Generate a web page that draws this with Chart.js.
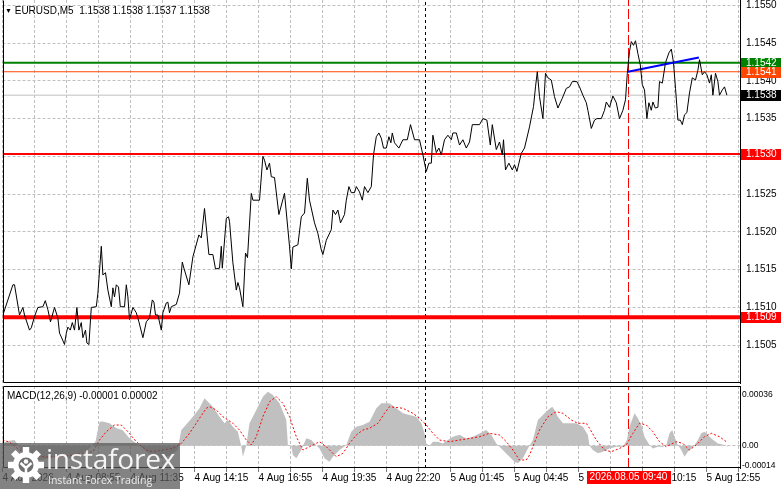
<!DOCTYPE html>
<html>
<head>
<meta charset="utf-8">
<script src="https://cdn.jsdelivr.net/npm/chart.js@4.4.1/dist/chart.umd.min.js"></script>
<style>
  html, body { margin:0; padding:0; background:#fff; }
  body { width:781px; height:489px; position:relative; overflow:hidden; font-family:"Liberation Sans", Arial, sans-serif; }
  canvas { position:absolute; left:0; }
  #mainChart { top:0; }
  #macdChart { top:386px; }
  .lbl { position:absolute; font-size:10px; line-height:12px; color:#000; white-space:pre; }
  #wm { position:absolute; left:0; top:443px; width:180px; height:46px; background:rgba(88,88,88,0.74); }
  #wm svg { position:absolute; left:6px; top:3px; }
  #wm .big { position:absolute; left:46px; top:0px; font-family:"Open Sans", "Liberation Sans", sans-serif; font-size:28px; line-height:30px; color:rgba(255,255,255,0.92); letter-spacing:-0.2px; }
  #wm .small { position:absolute; left:48px; top:31px; font-family:"Open Sans", "Liberation Sans", sans-serif; font-size:10.5px; line-height:12px; color:rgba(255,255,255,0.85); }
</style>
</head>
<body>
<canvas id="mainChart" width="781" height="386"></canvas>
<canvas id="macdChart" width="781" height="103"></canvas>
<div class="lbl" style="left:5px;top:5px"><span style="font-size:7px;vertical-align:1px">▼</span> EURUSD,M5  1.1538 1.1538 1.1537 1.1538</div>
<div class="lbl" style="left:7px;top:390px">MACD(12,26,9) -0.00001 0.00002</div>
<div id="wm">
  <svg width="40" height="38" viewBox="-20 -19 40 38">
    <g fill="#fff">
      <circle r="13"/>
      <rect x="-3.2" y="-18" width="6.4" height="8"/>
      <rect x="-3.2" y="-18" width="6.4" height="8" transform="rotate(45)"/>
      <rect x="-3.2" y="-18" width="6.4" height="8" transform="rotate(90)"/>
      <rect x="-3.2" y="-18" width="6.4" height="8" transform="rotate(135)"/>
      <rect x="-3.2" y="-18" width="6.4" height="8" transform="rotate(180)"/>
      <rect x="-3.2" y="-18" width="6.4" height="8" transform="rotate(225)"/>
      <rect x="-3.2" y="-18" width="6.4" height="8" transform="rotate(270)"/>
      <rect x="-3.2" y="-18" width="6.4" height="8" transform="rotate(315)"/>
    </g>
    <circle r="7.5" fill="#707070"/>
    <circle cx="0" cy="-3.5" r="2.3" fill="#fff"/>
    <path d="M-5.5 -2 L0 3 L5.5 -2 M0 3 L0 12" stroke="#fff" stroke-width="2.5" fill="none"/>
  </svg>
  <div class="big">instaforex</div>
  <div class="small">Instant Forex Trading</div>
</div>
<script>
// ---------- DATA ----------
// x positions are M5 bar indices counted from the first visible bar
const xTickLabels = ["4 Aug 2026","4 Aug 08:55","4 Aug 11:35","4 Aug 14:15","4 Aug 16:55","4 Aug 19:35",
                     "4 Aug 22:20","5 Aug 01:45","5 Aug 04:45","5 Aug 07:25","5 Aug 10:15","5 Aug 12:55"];
const xLabelStep = 32;
const xGridStep = 16;
const xMax = 368.75;

const priceTicks = [1.1505,1.1510,1.1515,1.1520,1.1525,1.1530,1.1535,1.1540,1.1545,1.1550];
const priceMin = 1.15000, priceMax = 1.15507;

const priceBar = [
  0.2,5.2,6.0,8.5,10.2,11.0,13.5,14.4,16.0,17.7,
  20.2,21.4,22.7,24.0,26.0,27.7,28.5,29.4,31.0,31.9,
  32.7,33.9,34.9,36.0,37.2,38.2,39.4,40.2,41.5,42.2,
  43.2,44.4,46.9,47.7,49.4,50.2,51.5,52.7,54.4,55.2,
  56.0,56.9,58.0,58.9,61.0,61.9,62.7,63.5,65.2,66.9,
  68.2,70.2,71.9,73.5,74.9,75.7,76.5,77.7,79.4,80.2,
  81.9,82.7,83.5,84.4,86.9,88.5,89.9,90.7,93.2,95.2,
  98.2,99.4,101.0,103.2,105.2,106.5,108.5,109.4,109.9,111.9,
  113.0,113.5,115.2,116.9,117.7,118.5,120.2,121.5,122.5,124.4,
  125.2,128.5,130.2,131.0,132.2,133.5,134.4,136.0,138.2,141.0,
  143.5,144.4,145.2,147.7,149.4,151.0,152.4,153.5,156.0,157.7,
  159.4,160.2,161.9,164.4,165.2,166.5,167.7,169.0,171.0,171.9,
  173.2,174.4,176.0,176.9,178.5,179.9,181.0,182.7,184.4,185.5,
  186.9,188.2,189.4,190.5,191.9,193.2,194.2,194.9,196.0,198.2,
  200.2,202.4,204.0,206.0,208.5,210.2,211.9,213.2,214.4,215.2,
  216.9,218.2,219.4,221.0,222.7,224.4,225.2,226.9,228.5,230.2,
  231.9,233.5,234.9,238.5,240.2,242.2,243.9,244.9,246.9,248.5,
  249.9,250.5,251.5,253.2,254.9,256.0,257.2,259.4,261.0,263.5,
  265.5,266.5,267.4,268.5,270.2,271.5,272.7,274.4,276.0,277.7,
  279.9,281.9,283.5,284.9,287.2,288.5,290.2,291.9,292.7,294.4,
  296.0,297.2,299.4,301.0,301.9,303.5,305.2,306.9,308.5,310.2,
  311.5,312.4,313.5,314.4,315.5,316.5,317.7,318.9,319.9,321.0,
  322.2,323.2,324.4,325.2,326.4,327.7,328.5,329.9,331.5,333.2,
  334.4,335.5,336.5,337.7,338.9,339.9,341.0,342.2,343.5,344.9,
  346.5,347.7,348.5,349.9,351.0,352.2,353.5,354.4,355.2,356.5,
  357.7,358.5,359.9,361.0,362.2
];
const priceClose = [
  1.15090,1.15130,1.15130,1.15090,1.15100,1.15090,1.15070,1.15073,1.15088,1.15100,
  1.15101,1.15109,1.15097,1.15081,1.15100,1.15086,1.15066,1.15061,1.15051,1.15066,
  1.15074,1.15070,1.15080,1.15070,1.15100,1.15070,1.15080,1.15060,1.15070,1.15053,
  1.15051,1.15100,1.15101,1.15119,1.15181,1.15143,1.15146,1.15123,1.15101,1.15126,
  1.15114,1.15130,1.15127,1.15101,1.15101,1.15130,1.15114,1.15084,1.15100,1.15093,
  1.15081,1.15060,1.15081,1.15086,1.15110,1.15107,1.15090,1.15090,1.15070,1.15093,
  1.15106,1.15107,1.15093,1.15101,1.15104,1.15119,1.15160,1.15152,1.15130,1.15167,
  1.15196,1.15192,1.15231,1.15170,1.15170,1.15151,1.15152,1.15181,1.15152,1.15218,
  1.15220,1.15214,1.15159,1.15123,1.15133,1.15126,1.15101,1.15172,1.15166,1.15251,
  1.15242,1.15242,1.15300,1.15295,1.15282,1.15291,1.15273,1.15272,1.15223,1.15251,
  1.15181,1.15151,1.15180,1.15183,1.15220,1.15225,1.15271,1.15242,1.15212,1.15198,
  1.15176,1.15170,1.15189,1.15203,1.15229,1.15223,1.15229,1.15212,1.15223,1.15242,
  1.15260,1.15252,1.15252,1.15260,1.15253,1.15242,1.15260,1.15252,1.15260,1.15302,
  1.15326,1.15331,1.15324,1.15311,1.15311,1.15326,1.15318,1.15331,1.15318,1.15311,
  1.15322,1.15322,1.15342,1.15322,1.15322,1.15302,1.15280,1.15291,1.15291,1.15328,
  1.15305,1.15311,1.15302,1.15322,1.15328,1.15322,1.15331,1.15331,1.15315,1.15322,
  1.15311,1.15319,1.15342,1.15342,1.15350,1.15348,1.15315,1.15342,1.15309,1.15319,
  1.15302,1.15322,1.15282,1.15291,1.15282,1.15289,1.15280,1.15304,1.15311,1.15339,
  1.15366,1.15392,1.15412,1.15379,1.15350,1.15410,1.15404,1.15401,1.15379,1.15364,
  1.15377,1.15390,1.15392,1.15399,1.15399,1.15392,1.15381,1.15371,1.15361,1.15337,
  1.15348,1.15350,1.15350,1.15361,1.15372,1.15365,1.15380,1.15371,1.15350,1.15361,
  1.15375,1.15410,1.15439,1.15452,1.15447,1.15453,1.15436,1.15421,1.15395,1.15388,
  1.15350,1.15371,1.15361,1.15372,1.15364,1.15365,1.15399,1.15397,1.15424,1.15437,
  1.15442,1.15424,1.15390,1.15348,1.15348,1.15342,1.15355,1.15358,1.15384,1.15404,
  1.15401,1.15414,1.15428,1.15408,1.15412,1.15408,1.15397,1.15408,1.15381,1.15410,
  1.15399,1.15381,1.15388,1.15392,1.15381
];

// horizontal levels: green, orange, bid (silver), red support/resistance
const levelValues = [1.15424, 1.15412, 1.15381, 1.15303, 1.15087];
const levelLineColors = ["#008000", "#ff4500", "#c0c0c0", "#ff0000", "#ff0000"];
const levelLineWidths = [2, 1, 1, 2, 4];
const levelTagColors = ["#008000", "#ff4500", "#000000", "#ff0000", "#ff0000"];

// blue trend line
const trendBars = [312.7, 348.2];
const trendPrices = [1.15412, 1.15431];

// vertical separators
const separatorBars = [211.5, 313];
const separatorColors = ["#000000", "#ff0000"];
const cursorLabel = "2026.08.05 09:40";

// MACD
const macdTicks = [-0.00014, 0, 0.00036];
const macdMin = -0.000156, macdMax = 0.000418;
const histBar = [
  0,3.5,6,7.5,9.5,13.5,18.5,23.5,28.5,33.5,
  38.5,43.5,46.5,48.5,50,53.5,57,60,63.5,67,
  68.5,73.5,78.5,83.5,87.5,89.4,91.9,95.2,98.5,101,
  102.7,105.2,108.5,111,112.7,115.2,117.7,119.4,120.2,121.9,
  123.5,126.9,130.2,132.7,135.2,138.5,141.9,142.7,144.4,145.2,
  146.9,149.4,151.9,154.4,156,158.5,161,163.5,165.2,168.5,
  171.9,174.4,176.9,180.2,183.5,186.9,189.4,193.5,196.9,200.2,
  203.5,206.9,209.4,211,211.9,213.5,215.2,217.7,220.2,222.7,
  225.2,228.5,231.9,235.2,238.5,241.9,244.4,246.9,248.5,251,
  253.5,256,257.7,260.2,262.7,265.2,267.7,270.2,272.7,274.9,
  276,277.7,280.2,283.5,286.9,290.2,292.7,293.5,295.2,297.7,
  300.2,303.5,306.9,310.2,312.2,313.5,316,317.7,319.4,321,
  323.5,325.2,327.7,330.2,331.9,333.5,334.9,336,337.7,339.4,
  341,342.7,344.4,346,347.7,349.4,351,352.7,354.4,357.7,
  361,362.7
];
const histValue = [
  0.000020,0.000035,0.000040,0.000010,-0.000040,-0.000080,-0.000100,-0.000090,-0.000070,-0.000090,
  -0.000060,-0.000020,0.000030,0.000168,0.000170,0.000157,0.000122,0.000110,0.000052,0.000015,
  0,-0.000060,-0.000090,-0.000070,-0.000030,0.000110,0.000149,0.000203,0.000262,0.000332,
  0.000308,0.000273,0.000203,0.000157,0.000180,0.000133,0.000098,-0.000005,-0.000077,0.000005,
  0.000157,0.000250,0.000343,0.000378,0.000355,0.000297,0.000180,0.000005,-0.000005,-0.000065,
  -0.000088,-0.000030,0.000052,0.000040,0.000016,-0.000019,-0.000088,-0.000112,-0.000077,-0.000030,
  0.000005,0.000098,0.000133,0.000145,0.000168,0.000262,0.000297,0.000297,0.000262,0.000227,
  0.000215,0.000203,0.000157,0.000087,0.000016,0,0.000028,0.000028,0.000016,0.000040,
  0.000063,0.000077,0.000051,0.000063,0.000086,0.000110,0.000075,0.000016,-0.000007,-0.000042,
  -0.000077,-0.000112,-0.000123,-0.000088,-0.000019,0.000040,0.000180,0.000215,0.000250,0.000273,
  0.000250,0.000203,0.000157,0.000157,0.000157,0.000133,0.000075,0,-0.000030,-0.000053,
  -0.000042,-0.000019,-0.000007,-0.000007,0.000040,0.000133,0.000227,0.000192,0.000145,0.000063,
  0.000005,-0.000019,-0.000007,-0.000007,0.000005,0.000087,0.000110,0.000063,0.000005,-0.000030,
  -0.000077,-0.000042,-0.000019,0.000005,0.000040,0.000087,0.000098,0.000075,0.000051,0.000016,
  0.000005,-0.000007
];
const signalBar = [
  0,3.5,8.5,15,23.5,33.5,41,45.2,48.5,51.9,
  56,59.4,62.7,66.9,71.9,75.2,80.2,85.2,89.4,93.5,
  98.5,101.9,103.5,106.9,110.2,115.2,118.5,121.9,124.4,126.9,
  130.2,133.5,136.9,140.2,143.5,146.9,150.2,153.5,158.5,161.9,
  166.9,170.2,173.5,176.9,180.2,183.5,187.7,191,193.5,200.2,
  205.2,208.5,211.9,215.2,218.5,223.5,228.5,233.5,238.5,243.5,
  248.5,251.9,255.2,258.5,261.9,263.5,265.2,268.5,272.7,276.9,
  280.2,284.4,287.7,291.9,293.5,296.9,301,304.4,308.5,311.9,
  315.2,318.5,321.9,325.2,328.5,331.9,336.9,340.2,343.5,346.9,
  351,354.4,358.5,361.9
];
const signalValue = [
  0.000040,0.000025,-0.000030,-0.000070,-0.000080,-0.000070,-0.000050,-0.000042,0.000040,0.000098,
  0.000145,0.000145,0.000098,0.000028,-0.000030,-0.000042,-0.000030,-0.000019,0.000016,0.000087,
  0.000192,0.000262,0.000273,0.000250,0.000203,0.000157,0.000110,0.000040,0.000005,0.000063,
  0.000203,0.000308,0.000343,0.000297,0.000203,0.000063,-0.000030,-0.000007,0.000028,-0.000007,
  -0.000077,-0.000053,0.000016,0.000075,0.000110,0.000122,0.000157,0.000227,0.000273,0.000262,
  0.000227,0.000192,0.000145,0.000087,0.000040,0.000028,0.000040,0.000051,0.000063,0.000087,
  0.000075,0.000028,-0.000030,-0.000100,-0.000100,-0.000065,-0.000007,0.000110,0.000203,0.000238,
  0.000227,0.000180,0.000157,0.000157,0.000122,0.000040,-0.000030,-0.000042,-0.000019,0.000005,
  0.000087,0.000157,0.000145,0.000098,0.000028,-0.000007,0.000028,0.000016,-0.000030,0.000005,
  0.000063,0.000087,0.000063,0.000028
];

// ---------- CHARTS ----------
const FONT_FAMILY = '"Liberation Sans", Arial, sans-serif';
Chart.defaults.font.family = FONT_FAMILY;
Chart.defaults.font.size = 10;
Chart.defaults.color = '#000';

const GRID = '#c0c0c0';
const gridTicks = [];
for (let v = 0; v <= xMax; v += xGridStep) gridTicks.push(v);

function pts(xs, ys) { return xs.map((x, i) => ({ x: x, y: ys[i] })); }

const framePlugin = {
  id: 'frame',
  afterDraw(chart, args, opts) {
    const { ctx, chartArea: a } = chart;
    ctx.save();
    ctx.strokeStyle = '#000';
    ctx.lineWidth = 1;
    ctx.beginPath();
    const L = Math.round(a.left) + 0.5, R = Math.round(a.right) + 0.5;
    const T = Math.round(a.top) + 0.5, B = Math.round(a.bottom) - 0.5;
    if (opts.top) { ctx.moveTo(L, T); ctx.lineTo(R, T); }
    ctx.moveTo(L, T); ctx.lineTo(L, B);
    ctx.moveTo(L, B); ctx.lineTo(R, B);
    ctx.stroke();
    ctx.restore();
  }
};

const levelTagPlugin = {
  id: 'levelTags',
  afterDraw(chart) {
    const { ctx, chartArea: a } = chart;
    const ys = chart.scales.y;
    ctx.save();
    ctx.font = '10px ' + FONT_FAMILY;
    ctx.textBaseline = 'middle';
    ctx.textAlign = 'left';
    levelValues.forEach((v, i) => {
      const py = Math.round(ys.getPixelForValue(v));
      ctx.fillStyle = levelTagColors[i];
      ctx.fillRect(a.right + 1, py - 5, chart.width - a.right - 1, 11);
      ctx.fillStyle = '#fff';
      ctx.fillText(v.toFixed(4), a.right + 6, py + 0.5);
    });
    ctx.restore();
  }
};

const cursorTagPlugin = {
  id: 'cursorTag',
  afterDraw(chart) {
    const { ctx, chartArea: a } = chart;
    const px = chart.scales.x.getPixelForValue(separatorBars[1]);
    ctx.save();
    ctx.font = '10px ' + FONT_FAMILY;
    const w = ctx.measureText(cursorLabel).width + 6;
    ctx.fillStyle = '#ff0000';
    ctx.fillRect(Math.round(px - w / 2), a.bottom + 3, Math.round(w), 13);
    ctx.fillStyle = '#fff';
    ctx.textAlign = 'center';
    ctx.textBaseline = 'middle';
    ctx.fillText(cursorLabel, px, a.bottom + 9.5);
    ctx.restore();
  }
};

// main price chart
const mainDatasets = [
  { data: pts(priceBar, priceClose), borderColor: '#000', borderWidth: 1, pointRadius: 0, tension: 0 },
  { data: pts(trendBars, trendPrices), borderColor: '#0000ff', borderWidth: 2, pointRadius: 0 }
];
levelValues.forEach((v, i) => {
  mainDatasets.push({ data: [{ x: 0, y: v }, { x: xMax, y: v }], borderColor: levelLineColors[i],
                      borderWidth: levelLineWidths[i], pointRadius: 0 });
});
separatorBars.forEach((b, i) => {
  mainDatasets.push({ data: [{ x: b, y: priceMin }, { x: b, y: priceMax }], borderColor: separatorColors[i],
                      borderWidth: 1, borderDash: i === 0 ? [3, 3] : [10, 3], pointRadius: 0 });
});

new Chart(document.getElementById('mainChart'), {
  type: 'line',
  data: { datasets: mainDatasets },
  options: {
    responsive: false, animation: false, events: [],
    layout: { padding: { left: 2.5, right: 0, top: 0, bottom: 3 } },
    plugins: { legend: { display: false }, tooltip: { enabled: false }, frame: { top: false } },
    scales: {
      x: {
        type: 'linear', min: 0, max: xMax,
        afterBuildTicks(s) { s.ticks = gridTicks.map(v => ({ value: v })); },
        afterFit(s) { s.height = 0; s.paddingLeft = 0; s.paddingRight = 0; },
        ticks: { display: false },
        grid: { color: GRID, drawTicks: false, lineWidth: 1 },
        border: { display: false, dash: [3, 2] }
      },
      y: {
        position: 'right', min: priceMin, max: priceMax,
        afterBuildTicks(s) { s.ticks = priceTicks.map(v => ({ value: v })); },
        afterFit(s) { s.width = 41; s.paddingTop = 0; s.paddingBottom = 0; },
        ticks: { callback: v => v.toFixed(4), padding: 2, color: '#000' },
        grid: { color: GRID, tickColor: 'rgba(0,0,0,0)', tickLength: 4 },
        border: { display: true, color: '#000', width: 1, dash: [3, 2] }
      }
    }
  },
  plugins: [framePlugin, levelTagPlugin]
});

// MACD chart
const macdDatasets = [
  { data: pts(signalBar, signalValue), borderColor: '#ff0000', borderWidth: 1, borderDash: [2, 2], pointRadius: 0 },
  { data: pts(histBar, histValue), borderWidth: 0, borderColor: 'rgba(0,0,0,0)', backgroundColor: '#c0c0c0',
    fill: 'origin', pointRadius: 0 }
];
separatorBars.forEach((b, i) => {
  macdDatasets.push({ data: [{ x: b, y: macdMin }, { x: b, y: macdMax }], borderColor: separatorColors[i],
                      borderWidth: 1, borderDash: i === 0 ? [3, 3] : [10, 3], pointRadius: 0 });
});

new Chart(document.getElementById('macdChart'), {
  type: 'line',
  data: { datasets: macdDatasets },
  options: {
    responsive: false, animation: false, events: [],
    layout: { padding: { left: 2.5, right: 0, top: 0, bottom: 0 } },
    plugins: { legend: { display: false }, tooltip: { enabled: false }, frame: { top: true } },
    scales: {
      x: {
        type: 'linear', min: 0, max: xMax,
        afterBuildTicks(s) { s.ticks = gridTicks.map(v => ({ value: v })); },
        afterFit(s) { s.height = 21; s.paddingLeft = 0; s.paddingRight = 0; },
        ticks: {
          autoSkip: false, maxRotation: 0, align: 'start', padding: 0, color: '#000',
          callback: v => (v % xLabelStep === 0 && v / xLabelStep < xTickLabels.length) ? xTickLabels[v / xLabelStep] : ''
        },
        grid: { color: GRID, drawTicks: true, tickLength: 4, tickColor: '#808080' },
        border: { display: false, dash: [3, 2] }
      },
      y: {
        position: 'right', min: macdMin, max: macdMax,
        afterBuildTicks(s) { s.ticks = macdTicks.map(v => ({ value: v })); },
        afterFit(s) { s.width = 41; s.paddingTop = 0; s.paddingBottom = 0; },
        ticks: { callback: v => v === 0 ? '0.00' : v.toFixed(5), padding: 1, color: '#000', font: { size: 8.5 } },
        grid: { color: c => (c.tick && c.tick.value === 0) ? GRID : 'rgba(0,0,0,0)', tickColor: 'rgba(0,0,0,0)', tickLength: 1 },
        border: { display: true, color: '#000', width: 1, dash: [3, 2] }
      }
    }
  },
  plugins: [framePlugin, cursorTagPlugin]
});
</script>
</body>
</html>
